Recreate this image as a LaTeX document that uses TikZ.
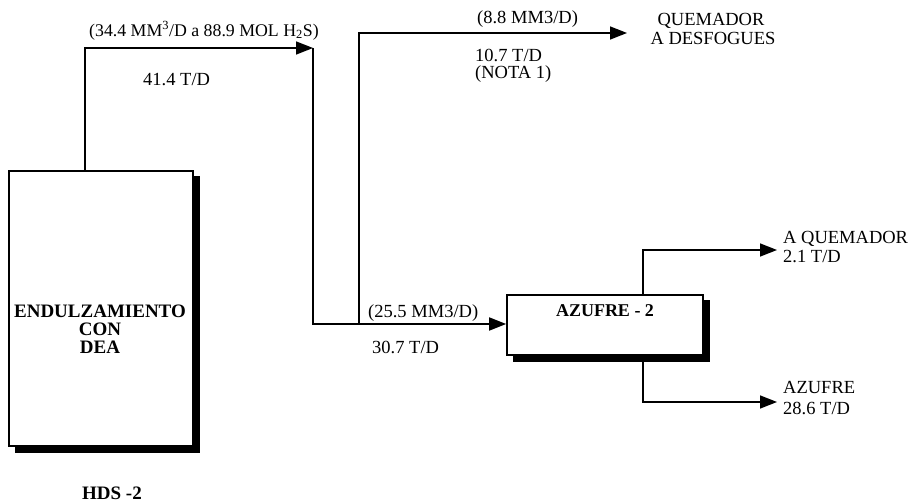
\documentclass[tikz,border=0pt]{standalone}
\usepackage{fontspec}
\setmainfont{Liberation Serif}
\usetikzlibrary{arrows.meta}
\begin{document}
\begin{tikzpicture}[x=1pt,y=-1pt,
  flow/.style={line width=1.6pt,-{Triangle[length=17pt,width=13pt]}},
  lbl/.style={inner sep=0pt,font=\fontsize{18.5}{20}\selectfont,text height=12.5pt,text depth=0pt},
  blbl/.style={inner sep=0pt,font=\fontsize{19}{20}\selectfont\bfseries,text height=12.5pt,text depth=0pt},
  unitbox/.style={draw,line width=1.6pt,fill=white,inner sep=0pt}]
\useasboundingbox (0,0) rectangle (911,502);
% shadows
\fill[black] (15,176) rectangle (200,453);
\fill[black] (513,300) rectangle (710,362);
% boxes
\node[unitbox,minimum width=184pt,minimum height=275pt] (endul) at (101,308.5) {};
\node[unitbox,minimum width=196pt,minimum height=60pt] (azufre) at (605,325) {};
% box texts
\node[blbl] (t1) at (100,311) {ENDULZAMIENTO};
\node[blbl] (t2) at (100,329) {CON};
\node[blbl] (t3) at (100,347) {DEA};
\node[blbl,font=\fontsize{18}{20}\selectfont\bfseries] (t4) at (605,310) {AZUFRE - 2};
\node[blbl] (hds) at (112,493) {HDS -2};
% coordinates
\coordinate (c1) at (85,171);
\coordinate (c2) at (313,48);
\coordinate (c3) at (313,324);
\coordinate (c4) at (359,324);
\coordinate (c5) at (627,33);
\coordinate (c6) at (643,295);
\coordinate (c7) at (777,250);
\coordinate (c8) at (643,355);
\coordinate (c9) at (777,402);
% connectors
\draw[flow] (c1) |- (c2);
\draw[flow] (c2) -- (c3) -- (c3 -| azufre.west);
\draw[flow] (c4) |- (c5);
\draw[flow] (c6) |- (c7);
\draw[flow] (c8) |- (c9);
% labels
\node[lbl,anchor=west,font=\fontsize{17.8}{20}\selectfont] (l1) at (89,30) {(34.4 MM\textsuperscript{3}/D a 88.9 MOL H\textsubscript{2}S)};
\node[lbl,anchor=west] (l2) at (143,79) {41.4 T/D};
\node[lbl,anchor=west] (l3) at (477,17) {(8.8 MM3/D)};
\node[lbl,anchor=west] (l4) at (475,55) {10.7 T/D};
\node[lbl,anchor=west] (l5) at (475,72) {(NOTA 1)};
\node[lbl] (l6) at (711,19) {QUEMADOR};
\node[lbl] (l7) at (713,38) {A DESFOGUES};
\node[lbl,anchor=west] (l8) at (368,311) {(25.5 MM3/D)};
\node[lbl,anchor=west] (l9) at (372,347) {30.7 T/D};
\node[lbl,anchor=west] (l10) at (783,237) {A QUEMADOR};
\node[lbl,anchor=west] (l11) at (783,256) {2.1 T/D};
\node[lbl,anchor=west] (l12) at (783,387) {AZUFRE};
\node[lbl,anchor=west] (l13) at (783,408) {28.6 T/D};
\end{tikzpicture}
\end{document}
